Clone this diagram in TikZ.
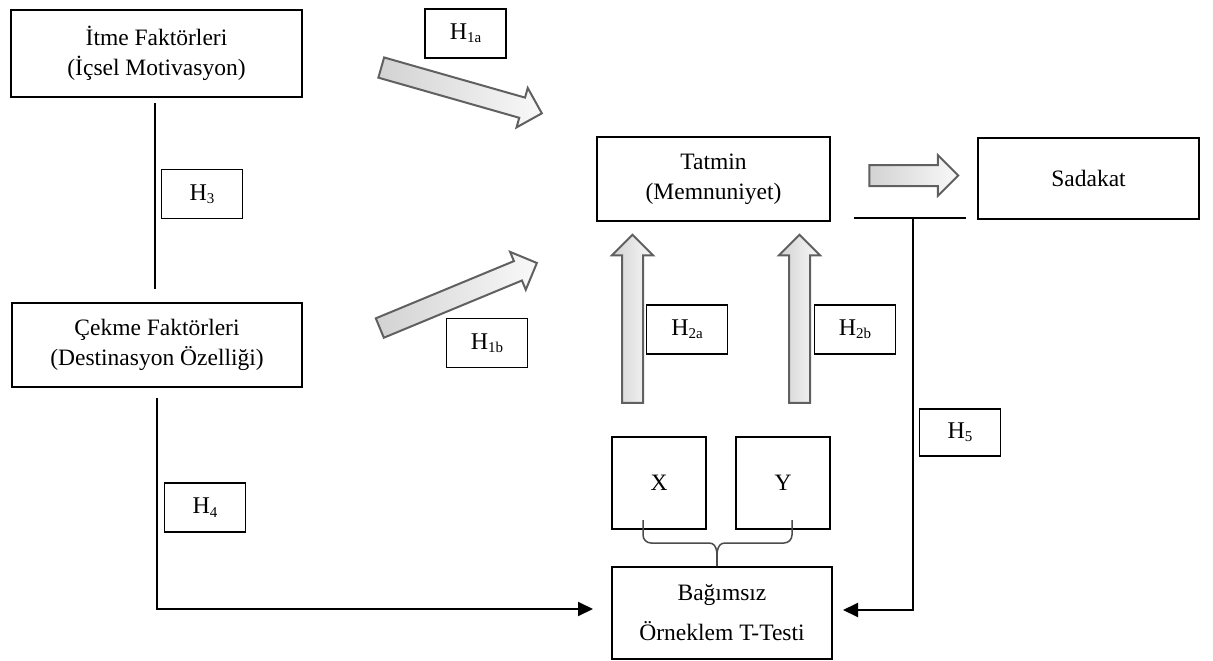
\documentclass[tikz,border=0pt]{standalone}
\usepackage{fontspec}
\setmainfont{Liberation Serif}
\usetikzlibrary{arrows.meta,shapes.arrows,calc}
\newcommand{\hlab}[1]{H\raisebox{-0.3ex}{\fontsize{15}{15}\selectfont #1}}
\begin{document}
\begin{tikzpicture}[x=1pt,y=-1pt,
  mainbox/.style={draw, line width=2pt, align=center, inner sep=0pt, font=\fontsize{23.5}{30}\selectfont},
  hbox/.style={draw, line width=1.3pt, inner sep=0pt, minimum width=81pt, minimum height=49pt, font=\fontsize{24}{24}\selectfont},
  fatarrow/.style={single arrow, draw=gray!75!black, line width=2pt, left color=gray!35, right color=gray!5, inner xsep=0pt, inner ysep=9.5pt, minimum height=#1, single arrow head extend=10pt, single arrow tip angle=90},
  conn/.style={line width=2pt, line join=miter},
  tipped/.style={-{Triangle[length=15pt,width=14pt]}},
  brace/.style={line width=1.5pt, draw=gray!60!black}
]
\useasboundingbox (0,0) rectangle (1213,661);

% main boxes
\node[mainbox, minimum width=291pt, minimum height=87pt] (itme) at (156.5,53.5) {İtme Faktörleri\\(İçsel Motivasyon)};
\node[mainbox, minimum width=290pt, minimum height=84pt] (cekme) at (157,345) {Çekme Faktörleri\\(Destinasyon Özelliği)};
\node[mainbox, minimum width=233pt, minimum height=84pt] (tatmin) at (713.5,179) {Tatmin\\(Memnuniyet)};
\node[mainbox, minimum width=221pt, minimum height=81pt] (sadakat) at (1088.5,178.5) {Sadakat};
\node[mainbox, minimum width=94pt, minimum height=92pt] (X) at (659,483) {X};
\node[mainbox, minimum width=94pt, minimum height=92pt] (Y) at (783,483) {Y};
\node[mainbox, line width=1.6pt, minimum width=220pt, minimum height=92pt, font=\fontsize{23.5}{40}\selectfont] (ttest) at (722,613) {Bağımsız\\Örneklem T-Testi};

% hypothesis labels
\node[hbox] (h1a) at (465.5,33.5) {\hlab{1a}};
\node[hbox] (h3) at (202,194) {\hlab{3}};
\node[hbox] (h1b) at (487,343) {\hlab{1b}};
\node[hbox] (h2a) at (687,329.5) {\hlab{2a}};
\node[hbox] (h2b) at (855,329.5) {\hlab{2b}};
\node[hbox] (h4) at (205,507.5) {\hlab{4}};
\node[hbox, minimum height=47pt] (h5) at (960,432.5) {\hlab{5}};

% fat arrows
\node[fatarrow=167pt, rotate=-15.9] (a1a) at (456.5,89) {};
\node[fatarrow=170pt, rotate=22.5] (a1b) at (453.5,297.5) {};
\node[fatarrow=168pt, rotate=90] (a2a) at (632.5,324) {};
\node[fatarrow=168pt, rotate=90] (a2b) at (799.5,324) {};
\node[fatarrow=89pt] (ats) at (908.5,175.5) {};

% connectors
\coordinate (h3top) at (155,103);
\coordinate (h3bot) at (155,289);
\draw[conn] (h3top) -- (h3bot);

\coordinate (h4top) at (157,398);
\coordinate (h4end) at (593,609);
\draw[conn, tipped] (h4top) |- (h4end);

\coordinate (h5l) at (854,218);
\coordinate (h5r) at (966,218);
\draw[conn] (h5l) -- (h5r);
\coordinate (h5top) at (913,218);
\coordinate (h5end) at (843,610);
\draw[conn, tipped] (h5top) |- (h5end);

% brace joining X and Y to the test
\coordinate (bl) at (643,520);
\coordinate (br) at (792,520);
\coordinate (bm) at (717,543);
\draw[brace] (bl) -- (643,535) to[out=-90,in=180] (651,543) -- (709,543) to[out=0,in=90] (bm |- ttest.north);
\draw[brace] (br) -- (792,535) to[out=-90,in=0] (784,543) -- (725,543) to[out=180,in=90] (bm |- ttest.north);
\end{tikzpicture}
\end{document}
